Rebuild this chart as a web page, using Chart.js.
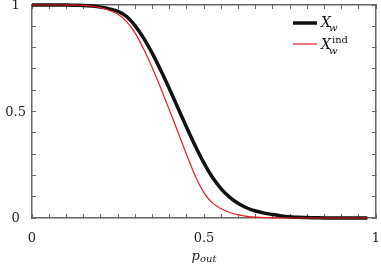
<!DOCTYPE html>
<html>
<head>
<meta charset="utf-8">
<script src="https://cdn.jsdelivr.net/npm/chart.js@4"></script>
<style>
  html, body { margin: 0; padding: 0; background: #fff; }
  #wrap { width: 381px; height: 266px; }
</style>
</head>
<body>
<div id="wrap"><canvas id="chart"></canvas></div>
<script>
const pOut = [0, 0.025, 0.05, 0.075, 0.1, 0.125, 0.15, 0.175, 0.2, 0.225,
  0.25, 0.275, 0.3, 0.325, 0.35, 0.375, 0.4, 0.425, 0.45, 0.475,
  0.5, 0.525, 0.55, 0.575, 0.6, 0.625, 0.65, 0.675, 0.7, 0.725,
  0.75, 0.775, 0.8, 0.825, 0.85, 0.875, 0.9, 0.925, 0.95, 0.975];
const xw = [1, 1, 1, 1, 1, 0.999, 0.998, 0.995, 0.99, 0.982,
  0.97, 0.946, 0.902, 0.843, 0.772, 0.691, 0.604, 0.514, 0.424, 0.337,
  0.258, 0.19, 0.137, 0.097, 0.068, 0.047, 0.033, 0.023, 0.016, 0.01,
  0.006, 0.003, 0.002, 0.001, 0, 0, 0, 0, 0, 0];
const xwInd = [1, 1, 1, 1, 1, 0.999, 0.998, 0.994, 0.987, 0.975,
  0.956, 0.922, 0.868, 0.792, 0.704, 0.607, 0.505, 0.4, 0.295, 0.196,
  0.118, 0.07, 0.043, 0.026, 0.015, 0.008, 0.004, 0.002, 0.001, 0,
  0, 0, 0, 0, 0, 0, 0, 0, 0, 0];
const xTickLabels = [0, 0.5, 1];
const yTickLabels = [0, 0.5, 1];

const axisColor = '#666666';
const tickFont = { family: '"DejaVu Serif"', size: 13 };

const pick = (list) => (v) => list.some(t => Math.abs(t - v) < 1e-9) ? String(v) : '';
const inwardGrid = () => ({ drawOnChartArea: false, drawTicks: true, tickLength: -4, color: axisColor, lineWidth: 1 });
// fixed box size, no extra room for overhanging labels
const fixSize = (prop, size) => s => {
  s[prop] = size;
  s.paddingLeft = s.paddingRight = s.paddingTop = s.paddingBottom = 0;
};

// legend with sub/superscripts, built from dataset labels like X_w^ind
const mathLegend = {
  id: 'mathLegend',
  afterDraw(chart) {
    const { ctx, chartArea } = chart;
    ctx.save();
    chart.data.datasets.forEach((ds, i) => {
      const y = chartArea.top + 18 + i * 21;
      const x0 = chartArea.right - 83;
      ctx.strokeStyle = ds.borderColor;
      ctx.lineWidth = ds.borderWidth;
      ctx.beginPath();
      ctx.moveTo(x0, y);
      ctx.lineTo(x0 + 24, y);
      ctx.stroke();
      const m = ds.label.match(/^(\w)_(\w)(?:\^(\w+))?$/);
      ctx.fillStyle = '#111';
      ctx.textBaseline = 'alphabetic';
      ctx.textAlign = 'left';
      const tx = x0 + 28;
      const base = y + (m[3] ? 5 : 4);
      ctx.font = 'italic 14px "DejaVu Serif"';
      ctx.fillText(m[1], tx, base);
      const w = ctx.measureText(m[1]).width;
      ctx.font = 'italic 10px "DejaVu Serif"';
      ctx.fillText(m[2], tx + w - 2, base + (m[3] ? 5 : 4));
      if (m[3]) {
        ctx.font = '10px "DejaVu Serif"';
        ctx.fillText(m[3], tx + w + 1, base - 6);
      }
    });
    ctx.restore();
  }
};

// x axis title p_out
const axisTitle = {
  id: 'axisTitle',
  afterDraw(chart) {
    const { ctx, chartArea } = chart;
    ctx.save();
    ctx.fillStyle = '#222';
    ctx.textBaseline = 'alphabetic';
    ctx.textAlign = 'left';
    ctx.font = 'italic 13px "DejaVu Serif"';
    const w1 = ctx.measureText('p').width;
    ctx.font = 'italic 10px "DejaVu Serif"';
    const w2 = ctx.measureText('out').width;
    const x = (chartArea.left + chartArea.right) / 2 - (w1 + w2) / 2;
    const y = 260;
    ctx.font = 'italic 13px "DejaVu Serif"';
    ctx.fillText('p', x, y);
    ctx.font = 'italic 10px "DejaVu Serif"';
    ctx.fillText('out', x + w1, y + 2);
    ctx.restore();
  }
};

new Chart(document.getElementById('chart'), {
  type: 'line',
  data: {
    datasets: [{
      label: 'X_w',
      data: pOut.map((x, i) => ({ x, y: xw[i] })),
      borderColor: '#111111',
      borderWidth: 3.5,
      order: 2
    }, {
      label: 'X_w^ind',
      data: pOut.map((x, i) => ({ x, y: xwInd[i] })),
      borderColor: '#f01a22',
      borderWidth: 1.2,
      order: 1
    }]
  },
  options: {
    responsive: true,
    maintainAspectRatio: false,
    animation: false,
    layout: { padding: 0 },
    elements: {
      point: { radius: 0 },
      line: { cubicInterpolationMode: 'monotone' }
    },
    datasets: { line: { clip: false } },
    plugins: { legend: { display: false }, tooltip: { enabled: false } },
    scales: {
      x: {
        type: 'linear', position: 'bottom', min: 0, max: 1,
        grid: inwardGrid(),
        border: { color: axisColor, width: 1.5 },
        ticks: { stepSize: 0.05, autoSkip: false, maxRotation: 0, padding: 17,
          font: tickFont, color: '#222', callback: pick(xTickLabels) },
        afterFit: fixSize('height', 48)
      },
      x2: {
        type: 'linear', position: 'top', min: 0, max: 1,
        grid: inwardGrid(),
        border: { color: axisColor, width: 1.5 },
        ticks: { stepSize: 0.05, autoSkip: false, display: false },
        afterFit: fixSize('height', 5)
      },
      y: {
        type: 'linear', position: 'left', min: 0, max: 1,
        grid: inwardGrid(),
        border: { color: axisColor, width: 1.5 },
        ticks: { stepSize: 0.1, autoSkip: false, padding: 10, crossAlign: 'center',
          labelOffset: 1, font: tickFont, color: '#222', callback: pick(yTickLabels) },
        afterFit: fixSize('width', 32)
      },
      y2: {
        type: 'linear', position: 'right', min: 0, max: 1,
        grid: inwardGrid(),
        border: { color: axisColor, width: 1.5 },
        ticks: { stepSize: 0.1, autoSkip: false, display: false },
        afterFit: fixSize('width', 5)
      }
    }
  },
  plugins: [mathLegend, axisTitle]
});
</script>
</body>
</html>
